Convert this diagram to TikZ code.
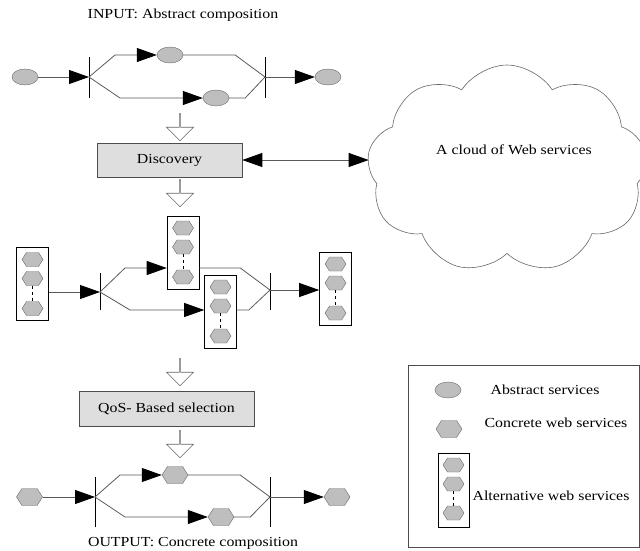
\documentclass[tikz,border=0pt]{standalone}
\usepackage{fontspec}
\setmainfont{Liberation Serif}[FakeStretch=1.15]
\usetikzlibrary{arrows.meta,shapes.geometric,shapes.symbols,shapes.arrows}

\definecolor{svcfill}{RGB}{190,190,190}
\definecolor{svcline}{RGB}{105,105,105}
\definecolor{boxfill}{RGB}{222,222,222}

\begin{document}
\begin{tikzpicture}[x=1pt,y=-1pt,
  every node/.style={font=\fontsize{13.8}{16}\selectfont},
  asvc/.style={ellipse,draw=svcline,fill=svcfill,minimum width=26pt,minimum height=16pt,inner sep=0pt},
  csvc/.style={signal,signal to=west and east,signal pointer angle=115,draw=svcline,fill=svcfill,minimum width=26pt,minimum height=17pt,inner sep=0pt},
  altsvc/.style={csvc,minimum width=21pt,minimum height=14pt},
  altbox/.style={draw=black,line width=0.6pt,minimum width=32pt,minimum height=73pt,inner sep=0pt},
  procbox/.style={draw=black!70,fill=boxfill,line width=0.6pt,inner sep=0pt},
  hollow/.style={single arrow,draw=black!60,fill=white,line width=0.6pt,minimum height=27pt,minimum width=27pt,
    single arrow head extend=7pt,inner sep=0pt,shape border rotate=270},
  line/.style={draw=black!65,line width=0.8pt},
  flow/.style={line,-{Triangle[length=20pt,width=14pt,black]}},
  bar/.style={draw=black,line width=0.8pt}]
      \useasboundingbox (0,0) rectangle (640,550);
      % input: abstract composition
      \node (intxt) at (183,15) {INPUT: Abstract composition};
      \node[asvc] (a1) at (25,77) {};
      \coordinate (s1) at (89,77);
      \node[asvc] (a2) at (170,55) {};
      \node[asvc] (a3) at (216,98) {};
      \coordinate (j1) at (265,77);
      \node[asvc] (a4) at (328,77) {};
      \draw[bar] (s1) ++(0,-20) -- ++(0,41);
      \draw[bar] (j1) ++(0,-20) -- ++(0,41);
      \draw[flow] (a1) -- (s1);
      \draw[flow] (s1) -- ++(26,-22) -- (a2);
      \draw[flow] (s1) -- ++(31,21) -- (a3);
      \draw[line] (a2.east) -- ++(52,0) -- (j1);
      \draw[line] (a3.east) -- ++(16,0) -- (j1);
      \draw[flow] (j1) -- (a4);
      % discovery
      \node[hollow] (h1) at (180,127) {};
      \node[procbox,minimum width=145pt,minimum height=34pt] (disc) at (169.5,160) {Discovery};
      \node[cloud,cloud puffs=9,cloud puff arc=115,aspect=1.3,draw=black!60,line width=0.6pt,
        minimum width=280pt,minimum height=208pt,inner sep=0pt] (web) at (507,169) {};
      \node (webtxt) at (514,150) {A cloud of Web services};
      \draw[line,{Triangle[length=20pt,width=14pt,black]}-{Triangle[length=20pt,width=14pt,black]}] (disc) -- (disc -| web.west);
      \node[hollow] (h2) at (180,193) {};
      % candidate services
      \node[altbox] (m1) at (32.5,284) {};
      \node[altsvc] (m1a) at (32.5,259.5) {};
      \node[altsvc] (m1b) at (32.5,278.5) {};
      \node[altsvc] (m1c) at (32.5,308.5) {};
      \draw[dashed,line width=0.6pt] (m1b) -- (m1c);
      \node[altbox] (m2) at (183,252.5) {};
      \node[altsvc] (m2a) at (183,228) {};
      \node[altsvc] (m2b) at (183,247) {};
      \node[altsvc] (m2c) at (183,277) {};
      \draw[dashed,line width=0.6pt] (m2b) -- (m2c);
      \node[altbox] (m3) at (220.5,311.5) {};
      \node[altsvc] (m3a) at (220.5,287) {};
      \node[altsvc] (m3b) at (220.5,306) {};
      \node[altsvc] (m3c) at (220.5,336) {};
      \draw[dashed,line width=0.6pt] (m3b) -- (m3c);
      \node[altbox] (m4) at (335.5,288.5) {};
      \node[altsvc] (m4a) at (335.5,264) {};
      \node[altsvc] (m4b) at (335.5,283) {};
      \node[altsvc] (m4c) at (335.5,313) {};
      \draw[dashed,line width=0.6pt] (m4b) -- (m4c);
      \coordinate (s2) at (100,292);
      \coordinate (j2) at (270,290);
      \draw[bar] (s2) ++(0,-19) -- ++(0,37);
      \draw[bar] (j2) ++(0,-17) -- ++(0,37);
      \draw[flow] (s2 -| m1.east) -- (s2);
      \draw[flow] (s2) -- ++(25,-24) coordinate (b2) -- (b2 -| m2.west);
      \draw[flow] (s2) -- ++(30,18) coordinate (b3) -- (b3 -| m3.west);
      \draw[line] (b2 -| m2.east) -- ++(41,0) -- (j2);
      \draw[line] (b3 -| m3.east) -- ++(12,0) -- (j2);
      \draw[flow] (j2) -- (j2 -| m4.west);
      % selection
      \node[hollow] (h3) at (180,372) {};
      \node[procbox,minimum width=175pt,minimum height=35pt] (qos) at (166.5,408.5) {QoS- Based selection};
      \node[hollow] (h4) at (180,444) {};
      % output: concrete composition
      \node[csvc] (c1) at (29.5,497) {};
      \coordinate (s3) at (95,497);
      \node[csvc] (c2) at (175,475) {};
      \node[csvc] (c3) at (221,517) {};
      \coordinate (j3) at (270,497);
      \node[csvc] (c4) at (337,497) {};
      \draw[bar] (s3) ++(0,-20) -- ++(0,50);
      \draw[bar] (j3) ++(0,-20) -- ++(0,50);
      \draw[flow] (c1) -- (s3);
      \draw[flow] (s3) -- ++(25,-22) -- (c2);
      \draw[flow] (s3) -- ++(30,20) -- (c3);
      \draw[line] (c2.east) -- ++(52,0) -- (j3);
      \draw[line] (c3.east) -- ++(16,0) -- (j3);
      \draw[flow] (j3) -- (c4);
      \node[anchor=base] (outtxt) at (193,546) {OUTPUT: Concrete composition};
      % legend
      \node[draw=black!70,line width=0.6pt,minimum width=231pt,minimum height=182pt,inner sep=0pt] (legend) at (523.5,456) {};
      \node[asvc] (la) at (448,390) {};
      \node (latxt) at (545,390) {Abstract services};
      \node[csvc] (lc) at (449,429) {};
      \node (lctxt) at (556,423) {Concrete web services};
      \node[altbox,minimum width=31pt,minimum height=74pt] (lm) at (453.5,490) {};
      \node[altsvc] (lma) at (453.5,465) {};
      \node[altsvc] (lmb) at (453.5,484) {};
      \node[altsvc] (lmc) at (453.5,513) {};
      \draw[dashed,line width=0.6pt] (lmb) -- (lmc);
      \node (lmtxt) at (551,496) {Alternative web services};
\end{tikzpicture}
\end{document}
